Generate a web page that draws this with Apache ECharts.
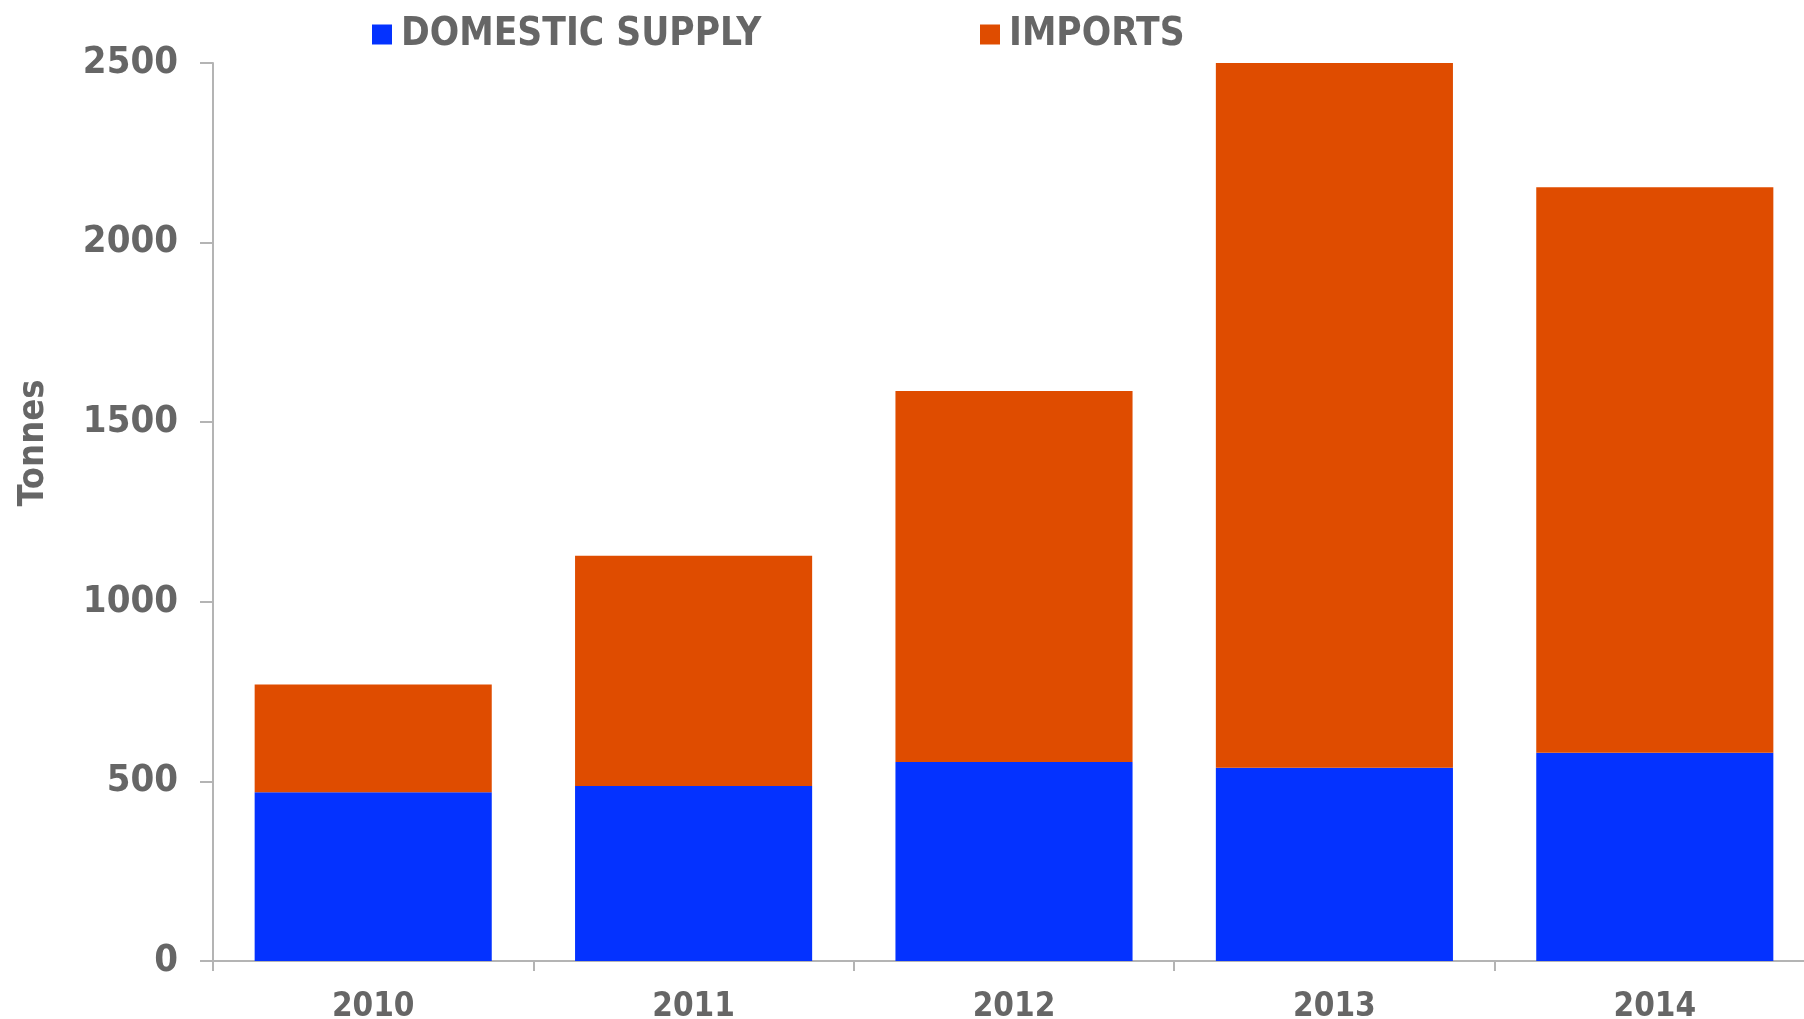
<!DOCTYPE html>
<html>
<head>
<meta charset="utf-8">
<title>Domestic supply and imports</title>
<script src="https://cdn.jsdelivr.net/npm/echarts@6/dist/echarts.min.js"></script>
<style>
  html, body { margin: 0; padding: 0; background: #ffffff; }
  #chart { width: 1804px; height: 1019px; }
</style>
</head>
<body>
<div id="chart"></div>
<script>
// Yearly tonnage, split by source
const years = ['2010', '2011', '2012', '2013', '2014'];
const domesticSupply = [470, 487, 554, 538, 580];
const imports = [300, 641, 1033, 1962, 1574];
const yTicks = { min: 0, max: 2500, interval: 500 };

const textGrey = '#666666';
const axisGrey = '#b4b4b4';
const fontFamily = '"DejaVu Sans Condensed", "DejaVu Sans", Verdana, sans-serif';

const chart = echarts.init(document.getElementById('chart'), null, { renderer: 'canvas' });

const legendText = {
  color: textGrey, fontSize: 38.5, fontWeight: 'bold', fontFamily: fontFamily, padding: [0, 0, 0, 4]
};

chart.setOption({
  animation: false,
  backgroundColor: '#ffffff',
  textStyle: { fontFamily: fontFamily },
  legend: [
    {
      data: ['DOMESTIC SUPPLY'],
      left: 372, top: 15, padding: 0,
      itemWidth: 20, itemHeight: 20, itemGap: 0,
      icon: 'rect',
      textStyle: legendText
    },
    {
      data: ['IMPORTS'],
      left: 980, top: 15, padding: 0,
      itemWidth: 20, itemHeight: 20, itemGap: 0,
      icon: 'rect',
      textStyle: legendText
    }
  ],
  grid: {
    left: 213, top: 63, width: 1602, height: 898,
    containLabel: false,
    outerBoundsMode: 'none'
  },
  xAxis: {
    type: 'category',
    data: years,
    boundaryGap: true,
    axisLine: { show: true, lineStyle: { color: axisGrey, width: 2 } },
    axisTick: { show: true, length: 10, lineStyle: { color: axisGrey, width: 2 } },
    axisLabel: { color: textGrey, fontSize: 33, fontWeight: 'bold', fontFamily: fontFamily, margin: 30 },
    splitLine: { show: false }
  },
  yAxis: {
    type: 'value',
    min: yTicks.min, max: yTicks.max, interval: yTicks.interval,
    axisLine: { show: true, lineStyle: { color: axisGrey, width: 2 } },
    axisTick: { show: true, length: 13, lineStyle: { color: axisGrey, width: 2 } },
    axisLabel: {
      color: textGrey, fontSize: 38, fontWeight: 'bold', fontFamily: fontFamily, margin: 35,
      formatter: function (v) { return String(v); }
    },
    splitLine: { show: false }
  },
  graphic: [
    {
      type: 'text',
      x: 34, y: 443,
      rotation: Math.PI / 2,
      style: {
        text: 'Tonnes',
        fill: textGrey,
        font: 'bold 36px ' + fontFamily,
        textAlign: 'center',
        textVerticalAlign: 'middle'
      }
    }
  ],
  series: [
    {
      name: 'DOMESTIC SUPPLY',
      type: 'bar',
      stack: 'total',
      data: domesticSupply,
      barCategoryGap: '26%',
      itemStyle: { color: '#0432FF' }
    },
    {
      name: 'IMPORTS',
      type: 'bar',
      stack: 'total',
      data: imports,
      barCategoryGap: '26%',
      itemStyle: { color: '#DF4C00' }
    }
  ]
});
</script>
</body>
</html>
